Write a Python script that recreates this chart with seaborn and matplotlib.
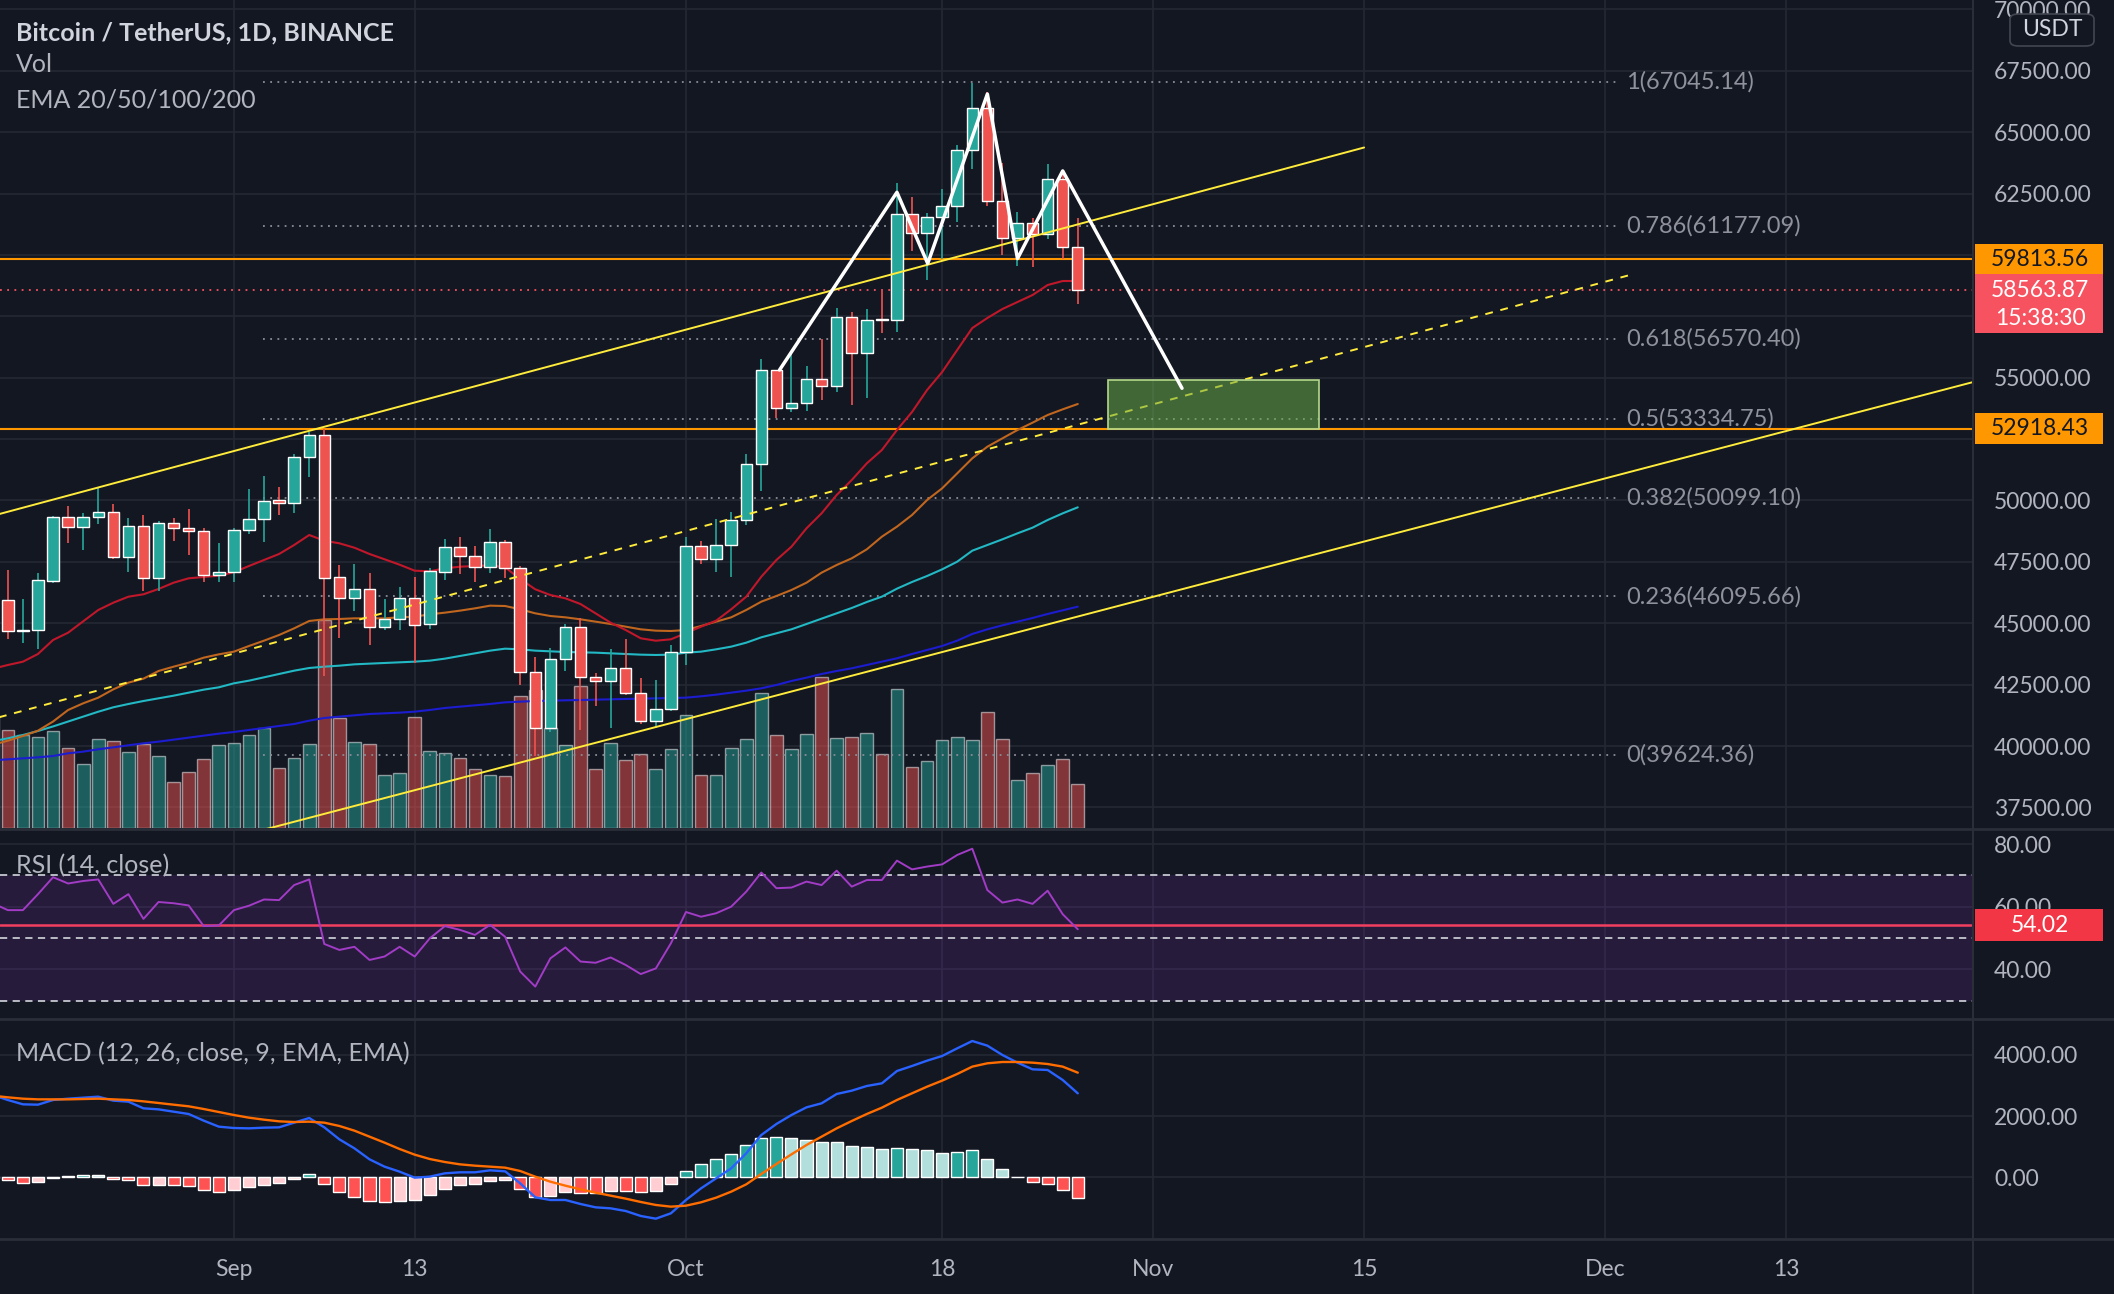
import numpy as np
import pandas as pd
import matplotlib
matplotlib.use("Agg")
import matplotlib.pyplot as plt
from matplotlib.patches import Rectangle, FancyBboxPatch
from matplotlib.lines import Line2D
from matplotlib import transforms
import seaborn as sns

# ---- data (BTCUSDT 1D, Binance) ----
dates = pd.date_range("2021-08-16", "2021-10-27", freq="D")

open_ = [47019, 45936, 44686, 44741, 46723, 49339, 48905, 49321, 49546, 47707, 48960, 46843, 49069, 48895, 48767, 46982,
         47100, 48810, 49246, 50000, 49918, 51756, 52666, 46868, 46048, 46395, 44842, 45173, 46025, 44960, 47100, 48121,
         47737, 47299, 48292, 47241, 43016, 40734, 43546, 44866, 42810, 42670, 43160, 42147, 41026, 41524,
         43820, 48141, 47634, 48200, 49224, 51471, 55315, 53785, 53955, 54949, 54659, 57471, 55996, 57370, 57347, 61672,
         60875, 61528, 62005, 64280, 66001, 62193, 60688, 61286, 60852, 63079, 60328]
high = [48050, 47160, 45985, 47033, 49382, 49757, 49500, 50500, 49875, 49300, 49400, 49150, 49300, 49650, 48900, 48250,
        48880, 50450, 51000, 50558, 51900, 52780, 52920, 47381, 47400, 47031, 45987, 46460, 46880, 47250, 48450, 48500,
        48150, 48843, 48372, 47347, 43639, 44000, 44978, 45200, 42966, 43950, 44350, 42787, 42690, 44132,
        48495, 48336, 49228, 49536, 51886, 55750, 55332, 56100, 55489, 56561, 57839, 57680, 57777, 58532, 62933, 62378,
        61720, 62695, 64486, 67000, 66639, 63732, 61747, 61500, 63710, 63293, 61496]
low = [45600, 44376, 44203, 43955, 46634, 48280, 48000, 49030, 47600, 47100, 46300, 46330, 48350, 47800, 46700, 46700,
       46700, 48630, 48316, 49400, 49500, 50969, 42843, 44412, 45513, 44132, 44722, 44742, 43370, 44750, 46773, 47020,
       46700, 47033, 46829, 42500, 39600, 40565, 43069, 40675, 41646, 40750, 42098, 40888, 40753, 41410,
       43283, 47430, 47088, 46891, 49022, 50382, 53357, 53617, 53661, 54080, 54415, 53879, 54167, 56818, 56850, 60150,
       58963, 59844, 61322, 63481, 62000, 60000, 59562, 59510, 60650, 59817, 58000]
close = [45936, 44695, 44709, 46760, 49339, 48905, 49321, 49546, 47707, 48960, 46843, 49069, 48895, 48767, 46982, 47100,
         48810, 49246, 49999, 49915, 51756, 52663, 46863, 46048, 46395, 44850, 45173, 46025, 44941, 47111, 48121, 47737,
         47299, 48292, 47241, 43015, 40734, 43543, 44865, 42810, 42670, 43160, 42147, 41026, 41524, 43824,
         48141, 47634, 48200, 49224, 51471, 55315, 53785, 53951, 54949, 54659, 57471, 55996, 57367, 57347, 61672, 60875,
         61528, 62009, 64280, 66001, 62193, 60688, 61286, 60852, 63078, 60328, 58563.87]
# volume in thousand BTC
volume_k = [70, 60.8, 57.7, 56.4, 60.1, 49.6, 39.7, 55.2, 53.9, 47.1, 52.1, 44.6, 28.5, 34.7, 42.8, 51.5,
            52.7, 57.7, 62.0, 37.2, 43.4, 52.1, 129.0, 68.2, 53.3, 52.1, 32.9, 34.1, 68.8, 47.7, 46.5, 43.4,
            36.6, 32.9, 32.2, 81.8, 85.6, 62.0, 51.5, 88.0, 36.6, 52.7, 42.2, 45.9, 36.6, 49.0,
            70.1, 32.9, 32.9, 49.6, 55.2, 83.7, 57.7, 49.0, 58.3, 93.6, 55.8, 56.4, 58.9, 45.9, 86.2, 37.8,
            41.5, 54.6, 56.4, 54.6, 71.9, 55.2, 29.8, 34.1, 39.1, 42.8, 27.3]

ema20 = [43150, 43302, 43437, 43750, 44320, 44617, 45081, 45541, 45839, 46083, 46181, 46397, 46653, 46832, 46885, 46939,
         47077, 47333, 47578, 47822, 48188, 48595, 48363, 48257, 48078, 47822, 47606, 47386, 47142, 47117, 47239, 47304,
         47333, 47361, 47279, 46803, 46384, 46152, 46017, 45785, 45406, 45024, 44727, 44389, 44291, 44348,
         44600, 44862, 45106, 45570, 46083, 46897, 47577, 48119, 48868, 49479, 50224, 50834, 51513, 52056, 52870, 53603,
         54499, 55232, 56128, 57023, 57431, 57797, 58082, 58367, 58774, 58937, 58937]
ema50 = [40050, 40221, 40411, 40628, 41000, 41470, 41742, 41972, 42311, 42583, 42746, 43058, 43234, 43397, 43601, 43736,
         43845, 44076, 44293, 44524, 44795, 45094, 45162, 45175, 45202, 45202, 45202, 45243, 45270, 45365, 45433, 45515,
         45609, 45718, 45704, 45569, 45406, 45297, 45243, 45162, 45067, 44972, 44863, 44755, 44700, 44687,
         44727, 44890, 45067, 45243, 45542, 45881, 46111, 46356, 46654, 47062, 47374, 47645, 48012, 48527, 48935, 49409,
         50020, 50496, 51106, 51717, 52191, 52531, 52871, 53169, 53481, 53712, 53929]
ema100 = [40200, 40316, 40452, 40615, 40800, 41000, 41200, 41400, 41580, 41714, 41836, 41945, 42053, 42176, 42298, 42393,
          42556, 42664, 42800, 42936, 43071, 43180, 43234, 43275, 43329, 43357, 43384, 43411, 43438, 43479, 43560, 43669,
          43777, 43886, 43967, 43940, 43886, 43859, 43832, 43818, 43804, 43777, 43750, 43723, 43710, 43723,
          43804, 43845, 43940, 44049, 44211, 44429, 44592, 44755, 44971, 45189, 45406, 45623, 45867, 46085, 46410, 46682,
          46926, 47197, 47509, 47957, 48188, 48419, 48663, 48894, 49206, 49477, 49722]
ema200 = [39420, 39461, 39502, 39543, 39597, 39706, 39774, 39869, 39950, 40032, 40113, 40181, 40262, 40344, 40425, 40507,
          40574, 40656, 40737, 40819, 40900, 41036, 41144, 41199, 41253, 41307, 41334, 41362, 41402, 41470, 41551, 41606,
          41660, 41714, 41782, 41809, 41836, 41850, 41864, 41877, 41891, 41904, 41918, 41931, 41945, 41959,
          41972, 42027, 42094, 42176, 42257, 42352, 42488, 42651, 42787, 42936, 43058, 43167, 43302, 43438, 43574, 43750,
          43913, 44076, 44293, 44565, 44754, 44917, 45067, 45216, 45379, 45528, 45677]

rsi = [61.1, 58.9, 58.9, 64.0, 69.4, 67.4, 68.2, 68.7, 60.9, 64.0, 56.1, 61.5, 61.1, 60.4, 53.8, 54.0,
       58.9, 60.3, 62.3, 62.1, 66.9, 68.7, 48.1, 46.2, 47.2, 43.0, 44.1, 47.2, 44.1, 49.9, 53.8, 52.6,
       51.0, 54.2, 50.4, 39.3, 34.5, 43.5, 47.0, 42.5, 42.1, 43.8, 41.4, 38.5, 40.3, 48.3,
       58.3, 56.8, 57.9, 60.0, 64.8, 70.9, 65.9, 66.1, 68.0, 66.9, 71.5, 66.4, 68.5, 68.5, 74.7, 71.9,
       72.8, 73.5, 76.5, 78.5, 65.3, 61.3, 62.3, 60.9, 65.1, 57.6, 52.8]
rsi_last = 54.02

macd = [2689, 2528, 2386, 2375, 2528, 2571, 2604, 2637, 2506, 2473, 2255, 2222, 2146, 2070, 1852, 1656,
        1612, 1601, 1623, 1634, 1787, 1939, 1634, 1242, 947, 588, 348, 184, -12, 21, 130, 163,
        163, 228, 195, -197, -655, -742, -742, -873, -982, -1015, -1102, -1265, -1353, -1178,
        -742, -361, -34, 293, 784, 1383, 1743, 2037, 2288, 2419, 2724, 2833, 2986, 3073, 3476, 3640,
        3814, 3967, 4217, 4457, 4305, 4000, 3749, 3531, 3509, 3182, 2746]
signal = [2669, 2615, 2571, 2549, 2549, 2549, 2560, 2571, 2549, 2528, 2484, 2430, 2375, 2321, 2233, 2135,
          2037, 1950, 1885, 1830, 1808, 1819, 1787, 1678, 1525, 1329, 1133, 925, 740, 598, 500, 424,
          380, 348, 315, 206, 21, -143, -274, -393, -502, -600, -698, -807, -905, -960,
          -928, -818, -666, -470, -230, 108, 435, 751, 1056, 1329, 1601, 1841, 2070, 2277, 2528, 2746,
          2964, 3161, 3379, 3619, 3728, 3771, 3771, 3749, 3705, 3619, 3422]
hist = [-34, -88, -197, -164, -34, 43, 64, 64, -66, -99, -262, -240, -262, -284, -415, -481,
        -415, -328, -251, -197, -56, 108, -230, -481, -633, -775, -797, -775, -753, -590, -393, -262,
        -219, -121, -99, -382, -655, -611, -481, -502, -524, -448, -448, -470, -448, -230,
        195, 435, 598, 762, 1067, 1285, 1318, 1274, 1220, 1143, 1143, 1034, 980, 925, 969, 936,
        882, 795, 828, 882, 588, 260, 21, -164, -219, -415, -667]

# horizontal levels and hand drawings
level_top = 59813.56
level_bottom = 52918.43
last_price = 58563.87
last_time = "15:38:30"
fib_ratios = ["1", "0.786", "0.618", "0.5", "0.382", "0.236", "0"]
fib_prices = [67045.14, 61177.09, 56570.40, 53334.75, 50099.10, 46095.66, 39624.36]
fib_span = ["2021-09-02 22:00", "2021-12-01 22:00"]
upper_chan = (["2021-08-16", "2021-11-15"], [49377, 64373])
lower_chan = (["2021-09-03", "2021-12-26"], [36598, 54917])
mid_chan = (["2021-08-16", "2021-12-03"], [41104, 59242])
zz_dates = ["2021-10-07 05:00", "2021-10-15 00:00", "2021-10-17 01:00", "2021-10-21 00:00",
            "2021-10-23 00:00", "2021-10-26 00:00", "2021-11-02 22:00"]
zz_prices = [55313, 62550, 59650, 66550, 59850, 63420, 54570]
box_dates = ["2021-10-29", "2021-11-12"]
box_prices = [52918.43, 54900]

tick_dates = ["2021-09-01", "2021-09-13", "2021-10-01", "2021-10-18",
              "2021-11-01", "2021-11-15", "2021-12-01", "2021-12-13"]
tick_labels = ["Sep", "13", "Oct", "18", "Nov", "15", "Dec", "13"]
price_ticks = np.arange(37500, 70001, 2500)
hidden_ticks = [52500, 57500, 60000]   # covered by the value tags on the price scale
rsi_ticks = [40, 60, 80]
macd_ticks = [0, 2000, 4000]

# ---- style ----
BG = "#131722"
GRID = "#242833"
SEP = "#2a2e39"
TXT = "#b2b5be"
UP, DOWN = "#26a69a", "#ef5350"
FS_TICK = 16.5
FS_LEG = 18

sns.set_theme(style="dark", rc={"axes.facecolor": BG, "figure.facecolor": BG,
                                "axes.edgecolor": BG, "text.color": TXT})
plt.rcParams["font.family"] = ["Lato", "DejaVu Sans"]

OCT1 = pd.Timestamp("2021-10-01")


def off(s):
    # day offset from 1 Oct, used as x coordinate
    return (pd.Timestamp(s) - OCT1) / pd.Timedelta(days=1)


day = np.array([off(d) for d in dates])
ticks_x = [off(d) for d in tick_dates]

W, H = 2114, 1294
PANE_R = 1972
fig = plt.figure(figsize=(W / 100, H / 100), dpi=100)


def rect(x0, y0, x1, y1):
    return [x0 / W, 1 - y1 / H, (x1 - x0) / W, (y1 - y0) / H]


ax_vol = fig.add_axes(rect(0, 0, PANE_R, 828))
ax = ax_vol.twinx()
ax_rsi = fig.add_axes(rect(0, 830, PANE_R, 1018), sharex=ax_vol)
ax_macd = fig.add_axes(rect(0, 1020, PANE_R, 1238), sharex=ax_vol)

XLIM = (-45.52, 85.34)
YLIM = (36665, 70379)
RSI_LIM = (24.48, 84.47)
MACD_LIM = (-1985, 5144)

for a in (ax_vol, ax, ax_rsi, ax_macd):
    for s in a.spines.values():
        s.set_visible(False)
    a.set_facecolor(BG)
ax.patch.set_visible(False)

# grid
for a in (ax_vol, ax_rsi, ax_macd):
    for x in ticks_x:
        a.axvline(x, color=GRID, lw=1.2, zorder=0)
for p in price_ticks:
    ax_vol.add_line(Line2D([XLIM[0], XLIM[1]], [p, p], transform=ax.transData, color=GRID, lw=1.2, zorder=0))
for v in rsi_ticks:
    ax_rsi.axhline(v, color=GRID, lw=1.2, zorder=0)
for v in macd_ticks:
    ax_macd.axhline(v, color=GRID, lw=1.2, zorder=0)

# volume
o = np.array(open_)
c = np.array(close)
up = c >= o
vol_colors = [UP if u else DOWN for u in up]
ax_vol.bar(day, volume_k, width=0.84, color=vol_colors, alpha=0.5, zorder=1)
ax_vol.set_ylim(0, 828 * 0.62)
ax_vol.set_yticks([])

# fib levels
fx0, fx1 = off(fib_span[0]), off(fib_span[1])
for r, p in zip(fib_ratios, fib_prices):
    ax.plot([fx0, fx1], [p, p], color="#8a8d96", lw=1.3, ls=(0, (1, 3)), zorder=1.5)
    ax.text(fx1 + 0.45, p, f"{r}({p:.2f})", color="#8f929b", fontsize=17, va="center", ha="left", zorder=1.5)

# horizontal levels
ax.axhline(level_top, color="#ff9800", lw=1.5, zorder=2)
ax.axhline(level_bottom, color="#ff9800", lw=1.5, zorder=2)
ax.axhline(last_price, color="#f7525f", lw=1.3, ls=(0, (1, 3)), zorder=2)

# EMAs
for vals, col in ((ema200, "#1c1cd0"), (ema100, "#22b8c4"), (ema50, "#c0661e"), (ema20, "#c0182a")):
    sns.lineplot(x=day, y=vals, ax=ax, color=col, lw=1.5, zorder=2.5, legend=False)

# candles
cols = np.where(up, UP, DOWN)
ax.vlines(day, low, high, colors=cols, lw=1.2, zorder=3)
body = np.maximum(np.abs(c - o), 35)
ax.bar(day, body, bottom=np.minimum(o, c), width=0.76, color=cols, zorder=3.2)

# drawings
ax.plot([off(d) for d in mid_chan[0]], mid_chan[1], color="#ffeb3b", lw=1.4, ls=(0, (4, 4)), zorder=4)
ax.plot([off(d) for d in upper_chan[0]], upper_chan[1], color="#ffeb3b", lw=1.4, zorder=4)
ax.plot([off(d) for d in lower_chan[0]], lower_chan[1], color="#ffeb3b", lw=1.4, zorder=4)
bx0, bx1 = off(box_dates[0]), off(box_dates[1])
ax.add_patch(Rectangle((bx0, box_prices[0]), bx1 - bx0, box_prices[1] - box_prices[0],
                       facecolor="#6aaa4a", alpha=0.55, edgecolor="none", zorder=5))
ax.add_patch(Rectangle((bx0, box_prices[0]), bx1 - bx0, box_prices[1] - box_prices[0],
                       facecolor="none", edgecolor="#b5d88b", lw=1.2, zorder=5))
ax.plot([off(d) for d in zz_dates], zz_prices, color="white", lw=2.5, zorder=6, solid_joinstyle="round")

ax.set_ylim(*YLIM)
ax.set_yticks(price_ticks)
ax.set_yticklabels(["" if v in hidden_ticks else f"{v:.2f}" for v in price_ticks])
ax.tick_params(axis="y", length=0, pad=16, labelsize=FS_TICK, labelcolor=TXT)
ax.set_ylabel("")

# RSI
ax_rsi.axhspan(30, 70, color="#7e2fb0", alpha=0.18, lw=0, zorder=0.5)
for lvl in (70, 50, 30):
    ax_rsi.axhline(lvl, color="#c5c8d0", lw=1.3, ls=(0, (4, 3)), zorder=1)
ax_rsi.axhline(rsi_last, color="#f23f5f", lw=1.8, zorder=2)
sns.lineplot(x=day, y=rsi, ax=ax_rsi, color="#a23bc6", lw=1.4, zorder=3, legend=False)
ax_rsi.set_ylim(*RSI_LIM)
ax_rsi.yaxis.tick_right()
ax_rsi.set_yticks(rsi_ticks)
ax_rsi.set_yticklabels([f"{v:.2f}" for v in rsi_ticks])
ax_rsi.tick_params(axis="y", length=0, pad=16, labelsize=FS_TICK, labelcolor=TXT)

# MACD
h = np.array(hist)
prev = np.concatenate([[h[0]], h[:-1]])
hcols = np.where(h >= 0, np.where(h > prev, "#26a69a", "#b2dfdb"),
                 np.where(h > prev, "#ffcdd2", "#ff5252"))
ax_macd.bar(day, h, width=0.8, color=hcols, zorder=2)
sns.lineplot(x=day, y=macd, ax=ax_macd, color="#2962ff", lw=1.7, zorder=3, legend=False)
sns.lineplot(x=day, y=signal, ax=ax_macd, color="#ff6d00", lw=1.7, zorder=3, legend=False)
ax_macd.set_ylim(*MACD_LIM)
ax_macd.yaxis.tick_right()
ax_macd.set_yticks(macd_ticks)
ax_macd.set_yticklabels([f"{v:.2f}" for v in macd_ticks])
ax_macd.tick_params(axis="y", length=0, pad=16, labelsize=FS_TICK, labelcolor=TXT)

for a in (ax_vol, ax, ax_rsi):
    a.tick_params(axis="x", bottom=False, labelbottom=False)
    a.set_xlabel("")
    a.set_ylabel("")
ax_macd.set_xticks(ticks_x)
ax_macd.set_xticklabels(tick_labels)
ax_macd.tick_params(axis="x", length=0, pad=15, labelsize=FS_TICK, labelcolor=TXT)
ax_macd.set_xlabel("")
ax_macd.set_ylabel("")
ax_vol.set_xlim(*XLIM)

# pane separators
for yp in (829, 1019, 1239):
    fig.add_artist(Line2D([0, 1], [1 - yp / H] * 2, transform=fig.transFigure, color=SEP, lw=2))
fig.add_artist(Line2D([(PANE_R + 1) / W] * 2, [0, 1], transform=fig.transFigure, color=SEP, lw=1.5))

# right-hand value tags
ppx = (YLIM[1] - YLIM[0]) / 828
bx_l, bx_w = 1975 / W, 128 / W
tr = transforms.blended_transform_factory(fig.transFigure, ax.transData)
ax.add_patch(Rectangle((bx_l, level_top - 15.5 * ppx), bx_w, 31 * ppx, transform=tr,
                       facecolor="#ff9800", edgecolor="none", clip_on=False, zorder=10))
ax.text(2040 / W, level_top, f"{level_top:.2f}", transform=tr, ha="center", va="center",
        fontsize=FS_TICK, color="#131722", clip_on=False, zorder=11)
ax.add_patch(Rectangle((bx_l, last_price - 42.8 * ppx), bx_w, 59 * ppx, transform=tr,
                       facecolor="#f7525f", edgecolor="none", clip_on=False, zorder=10))
ax.text(2040 / W, last_price, f"{last_price:.2f}", transform=tr, ha="center", va="center",
        fontsize=FS_TICK, color="white", clip_on=False, zorder=11)
ax.text(2040 / W, last_price - 28 * ppx, last_time, transform=tr, ha="center", va="center",
        fontsize=FS_TICK, color="white", clip_on=False, zorder=11)
ax.add_patch(Rectangle((bx_l, level_bottom - 15.5 * ppx), bx_w, 31 * ppx, transform=tr,
                       facecolor="#ff9800", edgecolor="none", clip_on=False, zorder=10))
ax.text(2040 / W, level_bottom, f"{level_bottom:.2f}", transform=tr, ha="center", va="center",
        fontsize=FS_TICK, color="#131722", clip_on=False, zorder=11)

rpx = (RSI_LIM[1] - RSI_LIM[0]) / 188
tr_r = transforms.blended_transform_factory(fig.transFigure, ax_rsi.transData)
ax_rsi.add_patch(Rectangle((bx_l, rsi_last - 16 * rpx), bx_w, 32 * rpx, transform=tr_r,
                           facecolor="#f23645", edgecolor="none", clip_on=False, zorder=10))
ax_rsi.text(2040 / W, rsi_last, f"{rsi_last:.2f}", transform=tr_r, ha="center", va="center",
            fontsize=FS_TICK, color="white", clip_on=False, zorder=11)

# USDT unit badge
fig.add_artist(FancyBboxPatch((2010 / W, 1 - 46 / H), 84 / W, 32 / H, boxstyle="round,pad=0,rounding_size=0.004",
                              transform=fig.transFigure, facecolor=BG, edgecolor="#434651", lw=1.2))
fig.text(2052 / W, 1 - 30 / H, "USDT", ha="center", va="center", fontsize=FS_TICK, color="#d1d4dc")

# legends
fig.text(16 / W, 1 - 33 / H, "Bitcoin / TetherUS, 1D, BINANCE", fontsize=FS_LEG, fontweight="bold",
         color="#d1d4dc", va="center")
fig.text(16 / W, 1 - 65 / H, "Vol", fontsize=FS_LEG, color=TXT, va="center")
fig.text(16 / W, 1 - 100 / H, "EMA 20/50/100/200", fontsize=FS_LEG, color=TXT, va="center")
fig.text(16 / W, 1 - 866 / H, "RSI (14, close)", fontsize=FS_LEG, color=TXT, va="center")
fig.text(16 / W, 1 - 1054 / H, "MACD (12, 26, close, 9, EMA, EMA)", fontsize=FS_LEG, color=TXT, va="center")

fig.savefig("out.png", dpi=100, facecolor=BG)
